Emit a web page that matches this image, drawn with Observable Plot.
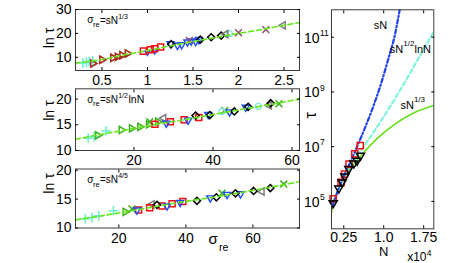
<!DOCTYPE html>
<html><head><meta charset="utf-8">
<script src="https://cdn.jsdelivr.net/npm/d3@7"></script>
<script src="https://cdn.jsdelivr.net/npm/@observablehq/plot@0.6"></script>
<style>
body{margin:0;background:#fff;}
#chart{position:relative;width:471px;height:263px;overflow:hidden;background:#fff;}
#chart svg{position:absolute;left:0;top:0;}
</style></head><body><div id="chart"></div>
<script>
// ---------- Panel 1: sigma_re = sN^{1/3} ----------
const p1XTicks = [0.5, 1, 1.5, 2, 2.5];
const p1YTicks = [10, 20, 30];
const p1Fit = [[0.21,7.6],[0.5,9.1],[0.75,11.1],[1.0,12.8],[1.25,14.8],[1.5,16.6],[1.75,18.3],[2.0,20.0],[2.25,21.6],[2.5,23.4],[2.67,24.5]];
const p1Plus = [[0.29,7.6],[0.33,8.0],[0.36,8.3],[0.40,8.5]];
const p1DarkRedTri = [[0.40,7.4],[0.50,9.0],[0.62,9.8],[0.67,10.2],[0.72,10.9],[0.78,11.6]];
const p1Squares = [[0.955,12.6],[1.03,13.2],[1.08,13.6],[1.145,14.3]];
const p1BlueSmall = [[1.0,12.0],[1.08,12.6]];
const p1BlueTri = [[1.255,15.7],[1.33,15.0],[1.376,15.3],[1.44,16.4],[1.48,16.8],[1.53,16.6],[1.566,17.4]];
const p1Diamonds = [[1.26,15.5],[1.58,17.4],[1.70,18.4],[1.81,19.1]];
const p1Times = [[1.46,17.1],[2.0,20.3],[2.3,21.6]];
const p1GrayTri = [[1.86,19.7],[2.49,23.4]];
const p1Circles = [[1.90,19.9]];

// ---------- Panel 2: sigma_re = sN^{1/2} lnN ----------
const p2XTicks = [20, 40, 60];
const p2YTicks = [10, 15, 20];
const p2Fit = [[5.2,12.2],[15,13.6],[25,15.0],[35,16.3],[45,17.7],[55,19.0],[61.9,20.0]];
const p2Plus = [[8.4,12.4],[9.9,12.7],[12.9,13.8]];
const p2GreenTri = [[10.8,12.95],[16.8,14.0],[19.4,14.3],[21.5,14.6],[23.7,15.1],[26.0,15.6]];
const p2GreenX = [[24.0,15.6],[43.0,17.8],[56.7,19.1]];
const p2GrayTri = [[27.5,16.3],[54.2,18.8]];
const p2Squares = [[25.3,15.1],[29.2,15.6],[32.7,16.0],[36.4,16.4]];
const p2BlueTri = [[28.2,15.3],[33.7,15.9],[38.8,17.0],[44.2,17.5],[48.3,18.4]];
const p2Diamonds = [[35.6,16.8],[39.2,16.9],[45.4,17.6],[48.9,18.5],[54.6,19.2]];
const p2Circles = [[42.3,17.6],[51.5,18.6]];

// ---------- Panel 3: sigma_re = sN^{4/5} ----------
const p3XTicks = [20, 40, 60];
const p3YTicks = [10, 15, 20];
const p3Fit = [[7.07,11.4],[20,12.6],[30,13.6],[40,14.6],[50,15.5],[60,16.5],[73.9,18.0]];
const p3Plus = [[10.0,11.6],[12.0,11.8],[14.0,12.1],[18.4,13.0]];
const p3GreenTri = [[21.9,12.8]];
const p3GreenX = [[23.9,13.3],[50.8,16.0],[69.2,17.6]];
const p3BlueTri = [[25.4,13.1],[34.4,13.8],[38.3,14.4],[47.3,15.2],[52.3,15.8],[56.3,15.9]];
const p3Squares = [[25.9,13.1],[29.2,13.5],[32.9,13.8],[35.9,14.2],[39.1,14.6]];
const p3GrayTri = [[29.9,14.1],[62.7,16.3]];
const p3Diamonds = [[31.4,14.0],[43.3,14.7],[49.1,15.3],[54.8,16.0],[60.2,16.4],[65.2,16.9]];

// ---------- Right panel: tau vs N (x10^4) ----------
const rXTicks = [0.25, 1.0, 1.75];
const rXTickLabels = ["0.25", "1.0", "1.75"];
const rYTicks = [1e5, 1e7, 1e9, 1e11];
const rLineSN = [[0.04,7.1e4],[0.2,5.0e5],[0.35,2.2e6],[0.5,1e7],[0.65,5e7],[0.8,2.8e8],[0.95,2e9],[1.1,2e10],[1.2,1e11],[1.3,1e12]];
const rLineSqrtLn = [[0.04,7.1e4],[0.2,4.5e5],[0.35,1.6e6],[0.5,4.5e6],[0.7,1.6e7],[0.9,6.3e7],[1.1,2.5e8],[1.3,1.1e9],[1.5,5e9],[1.7,2.5e10],[1.94,1.6e11]];
const rLineCube = [[0.02,4e4],[0.05,8e4],[0.15,2.8e5],[0.25,7e5],[0.35,1.4e6],[0.45,2.5e6],[0.63,6.3e6],[0.88,2e7],[1.19,6.3e7],[1.56,1.7e8],[1.94,3.2e8]];
const rSquares = [[0.052,1.25e5],[0.2,5e5],[0.265,1e6],[0.35,2.3e6],[0.457,5.5e6],[0.56,1.1e7]];
const rTriangles = [[0.052,8.7e4],[0.157,3e5],[0.22,5e5],[0.27,8.3e5],[0.345,1.55e6],[0.44,2.45e6],[0.50,3.1e6],[0.564,4.7e6]];

// ---------- helpers ----------
const W = 471, H = 263;
const FONT = "'Liberation Sans', Arial, Helvetica, sans-serif";
const C = {cyan:"#66f0d0", darkred:"#a52a1a", red:"#f01010", blue:"#1e4cff", mauve:"#8f4f6f",
  gray:"#7a7a7a", green:"#3cb01c", fit:"#66e81a", circ:"#7fe8e0"};

function tri(angle) { // triangle pointing in direction angle (radians, 0 = down)
  return {draw(ctx, size) {
    const r = Math.sqrt(size / Math.PI) * 1.3;
    for (let k = 0; k < 3; k++) {
      const a = angle + k * 2 * Math.PI / 3;
      const px = -Math.sin(a) * r, py = Math.cos(a) * r;
      if (k === 0) ctx.moveTo(px, py); else ctx.lineTo(px, py);
    }
    ctx.closePath();
  }};
}
const triDown = tri(0), triRight = tri(-Math.PI / 2), triLeft = tri(Math.PI / 2);

const X = d => d[0], Y = d => d[1];
function dots(data, symbol, stroke, r = 3.2, sw = 1.3) {
  return Plot.dot(data, {x: X, y: Y, symbol, stroke, fill: "none", r, strokeWidth: sw});
}
function txt(s, o) {
  return Plot.text([s], {text: d => d, textAnchor: "start", lineAnchor: "bottom", fill: "black", ...o});
}
function insideTicks(xTicks, yTicks) {
  const o = {tickFormat: () => "", label: null, tickSize: 3};
  return [
    Plot.axisX(xTicks, {...o, anchor: "bottom", dy: -3}),
    Plot.axisX(xTicks, {...o, anchor: "top", dy: 3}),
    Plot.axisY(yTicks, {...o, anchor: "left", dx: 3}),
    Plot.axisY(yTicks, {...o, anchor: "right", dx: -3})
  ];
}
function panelLabel(exp, extra) {
  const m = [
    txt("σ", {frameAnchor: "top-left", dx: 11.7, dy: 13.7, fontSize: 10}),
    txt("re", {frameAnchor: "top-left", dx: 17.5, dy: 17.5, fontSize: 7.5}),
    txt("=sN", {frameAnchor: "top-left", dx: 24.5, dy: 14, fontSize: 10}),
    txt(exp, {frameAnchor: "top-left", dx: 42.7, dy: 9.3, fontSize: 7})
  ];
  if (extra) m.push(txt(extra, {frameAnchor: "top-left", dx: 53, dy: 14, fontSize: 10.5}));
  return m;
}
function leftPanel({top, bottom, xDomain, yDomain, xTicks, yTicks, labelDy, marks}) {
  return Plot.plot({
    width: W, height: H,
    marginLeft: 75, marginRight: W - 299, marginTop: top, marginBottom: H - bottom,
    x: {domain: xDomain}, y: {domain: yDomain},
    style: {background: "transparent", fontFamily: FONT, overflow: "visible", color: "black"},
    marks: [
      ...marks,
      Plot.frame({stroke: "#3a3a3a"}),
      ...insideTicks(xTicks, yTicks),
      Plot.axisX(xTicks, {anchor: "bottom", tickSize: 0, tickPadding: 5, fontSize: 14, tickFormat: d => String(d), label: null}),
      Plot.axisY(yTicks, {anchor: "left", tickSize: 0, tickPadding: 4, fontSize: 14, tickFormat: d => String(d), label: null}),
      txt("ln τ", {frameAnchor: "left", rotate: -90, textAnchor: "middle", lineAnchor: "middle", dx: -26, dy: labelDy, fontSize: 14})
    ]
  });
}
function fitLine(data) {
  return Plot.line(data, {x: X, y: Y, stroke: C.fit, strokeWidth: 1.6, strokeDasharray: "5,3", curve: "monotone-x"});
}

const chart = document.getElementById("chart");

// Panel 1
chart.append(leftPanel({
  top: 9, bottom: 70, xDomain: [0.21, 2.67], yDomain: [4.5, 30], xTicks: p1XTicks, yTicks: p1YTicks, labelDy: -2,
  marks: [
    dots(p1Plus, "plus", C.cyan, 3.2, 1.5),
    dots(p1DarkRedTri, triRight, C.darkred, 3.2, 1.6),
    dots(p1BlueSmall, triDown, C.blue, 2.2, 1.4),
    dots(p1Squares, "square", C.red, 3.4, 1.5),
    dots(p1BlueTri, triDown, C.blue, 3.2, 1.4),
    dots(p1Diamonds, "diamond2", "black", 3.2, 1.5),
    dots(p1Circles, "circle", C.circ, 3, 1.3),
    dots(p1Times, "times", C.mauve, 3.2, 1.5),
    dots(p1GrayTri, triLeft, C.gray, 3.2, 1.5),
    fitLine(p1Fit),
    ...panelLabel("1/3")
  ]
}));

// Panel 2
chart.append(leftPanel({
  top: 88.3, bottom: 150, xDomain: [5.2, 61.9], yDomain: [10, 22], xTicks: p2XTicks, yTicks: p2YTicks, labelDy: -9,
  marks: [
    dots(p2Plus, "plus", C.cyan, 3.2, 1.5),
    dots(p2GreenTri, triRight, C.green, 3.2, 1.5),
    dots(p2GreenX, "times", C.green, 3.2, 1.5),
    dots(p2GrayTri, triLeft, C.gray, 3.2, 1.5),
    dots(p2Squares, "square", C.red, 3.4, 1.5),
    dots(p2BlueTri, triDown, C.blue, 3.2, 1.4),
    dots(p2Circles, "circle", C.circ, 3, 1.3),
    dots(p2Diamonds, "diamond2", "black", 3.2, 1.5),
    fitLine(p2Fit),
    ...panelLabel("1/2", "lnN")
  ]
}));

// Panel 3
chart.append(leftPanel({
  top: 168.5, bottom: 227.5, xDomain: [7.07, 73.9], yDomain: [10, 20.2], xTicks: p3XTicks, yTicks: p3YTicks, labelDy: -15,
  marks: [
    dots(p3Plus, "plus", C.cyan, 3.2, 1.5),
    dots(p3GreenTri, triRight, C.green, 3.2, 1.5),
    dots(p3GreenX, "times", C.green, 3.2, 1.5),
    dots(p3GrayTri, triLeft, C.gray, 3.2, 1.5),
    dots(p3Squares, "square", C.red, 3.4, 1.5),
    dots(p3BlueTri, triDown, C.blue, 3.2, 1.4),
    dots(p3Diamonds, "diamond2", "black", 3.2, 1.5),
    fitLine(p3Fit),
    ...panelLabel("4/5"),
    txt("σ", {frameAnchor: "bottom-left", dx: 133, dy: 15.8, fontSize: 15}),
    txt("re", {frameAnchor: "bottom-left", dx: 143.5, dy: 22.5, fontSize: 10.5})
  ]
}));

// Right panel
chart.append(Plot.plot({
  width: W, height: H,
  marginLeft: 331, marginRight: W - 433.3, marginTop: 9.3, marginBottom: H - 228.3,
  x: {domain: [0.02, 1.94]},
  y: {type: "log", domain: [1e4, 1e12]},
  style: {background: "transparent", fontFamily: FONT, overflow: "visible", color: "black"},
  marks: [
    Plot.line(rLineCube, {x: X, y: Y, stroke: "#66e01a", strokeWidth: 1.6, curve: "monotone-x", clip: true}),
    Plot.line(rLineSqrtLn, {x: X, y: Y, stroke: "#7ff5dc", strokeWidth: 2.2, strokeDasharray: "4,3", curve: "monotone-x", clip: true}),
    Plot.line(rLineSN, {x: X, y: Y, stroke: "#2040f0", strokeWidth: 2.2, strokeDasharray: "4,2.5,1.2,2.5", curve: "monotone-x", clip: true}),
    dots(rSquares, "square", C.red, 3.5, 1.5),
    dots(rTriangles, triDown, "black", 3.6, 1.5),
    Plot.frame({stroke: "#3a3a3a"}),
    ...insideTicks(rXTicks, rYTicks),
    Plot.axisX(rXTicks, {anchor: "bottom", tickSize: 0, tickPadding: 3, fontSize: 14, tickFormat: d => rXTickLabels[rXTicks.indexOf(d)], label: null}),
    Plot.axisY(rYTicks, {anchor: "left", tickSize: 0, tickPadding: 12, fontSize: 14, dy: 1, tickFormat: () => "10", label: null}),
    Plot.text(rYTicks, {y: d => d, frameAnchor: "left", text: d => String(Math.round(Math.log10(d))), textAnchor: "start", lineAnchor: "middle", dx: -11.5, dy: -4, fontSize: 8.5, fill: "black"}),
    txt("τ", {frameAnchor: "left", rotate: -90, textAnchor: "middle", lineAnchor: "middle", dx: -21, dy: -4, fontSize: 16}),
    txt("N", {frameAnchor: "bottom", textAnchor: "middle", dx: 1, dy: 27.5, fontSize: 13}),
    txt("x10", {frameAnchor: "bottom-left", dx: 75.7, dy: 32.2, fontSize: 12}),
    txt("4", {frameAnchor: "bottom-left", dx: 95.3, dy: 26.8, fontSize: 8.5}),
    txt("sN", {frameAnchor: "top-left", dx: 42.3, dy: 19, fontSize: 11}),
    txt("sN", {frameAnchor: "top-left", dx: 58.3, dy: 43, fontSize: 11}),
    txt("1/2", {frameAnchor: "top-left", dx: 71.8, dy: 35.7, fontSize: 8}),
    txt("lnN", {frameAnchor: "top-left", dx: 83, dy: 43, fontSize: 11}),
    txt("sN", {frameAnchor: "top-left", dx: 69, dy: 99, fontSize: 11}),
    txt("1/3", {frameAnchor: "top-left", dx: 82.4, dy: 92.4, fontSize: 8})
  ]
}));
</script></body></html>
